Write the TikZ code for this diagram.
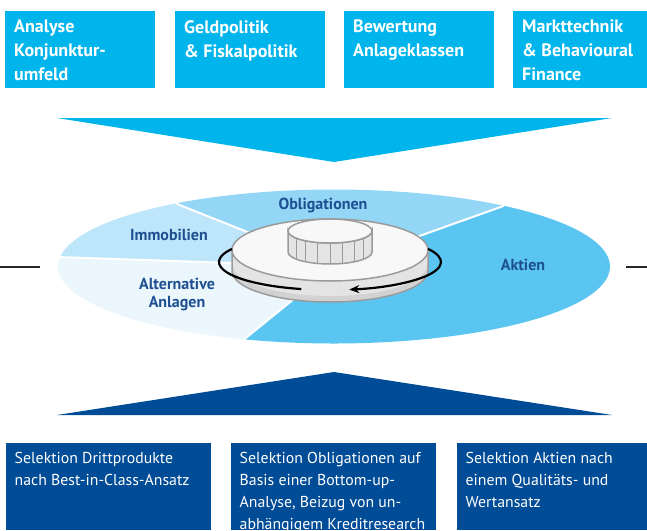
\documentclass[tikz,border=0pt]{standalone}
\usepackage{fontspec}
\setmainfont{PT Sans}
\usetikzlibrary{arrows.meta}
\definecolor{topblue}{HTML}{00B5EB}
\definecolor{darkblue}{HTML}{004C96}
\definecolor{labelblue}{HTML}{1D4F91}
\definecolor{aktiencol}{HTML}{5BC5F1}
\definecolor{oblicol}{HTML}{93D6F6}
\definecolor{immocol}{HTML}{BEE6FA}
\definecolor{altcol}{HTML}{EBF7FD}
\definecolor{diskline}{HTML}{9B9B9B}
\definecolor{diskside}{HTML}{E4E4E4}
\definecolor{diskbase}{HTML}{D2D2D2}
\definecolor{disktop}{HTML}{F8F8F8}

\begin{document}
\begin{tikzpicture}
		[x=1pt, y=-1pt,
			box/.style={anchor=north west, inner sep=0pt, minimum height=77pt},
			topbox/.style={box, fill=topblue, minimum width=150pt},
			selbox/.style={box, fill=darkblue, minimum width=205pt, minimum height=87pt},
			boxtext/.style={anchor=north west, inner sep=0pt, align=left, text=white},
			toptext/.style={boxtext, font=\bfseries\fontsize{18}{24}\selectfont},
			seltext/.style={boxtext, font=\fontsize{15.8}{22}\selectfont},
			pielabel/.style={align=center, inner sep=0pt, text=labelblue, font=\bfseries\fontsize{16}{18}\selectfont},
			disk/.style={fill=disktop, draw=diskline, line width=1.5pt},
			rotarrow/.style={line width=2.2pt, black}]
		\useasboundingbox (0,0) rectangle (647,530);
		% define centres of pie, disks and rotation
		\coordinate (pc) at (334,266.5);
		\coordinate (dc) at (330,250);
		\coordinate (sc) at (330,231);
		\coordinate (ac) at (330,262);
		% side marks
		\coordinate (l0) at (0,267);
		\coordinate (l1) at (40,267);
		\coordinate (r0) at (626,267);
		\coordinate (r1) at (647,267);
		% the analysis boxes on top
		\node[topbox] (t1) at (5,11) {};
		\node[topbox] (t2) at (175,11) {};
		\node[topbox] (t3) at (344,11) {};
		\node[topbox, minimum width=134pt] (t4) at (513,11) {};
		\node[toptext] (t1text) at ([shift={(9,9)}]t1.north west) {Analyse\\Konjunktur-\\umfeld};
		\node[toptext] (t2text) at ([shift={(9,9)}]t2.north west) {Geldpolitik\\\& Fiskalpolitik};
		\node[toptext] (t3text) at ([shift={(9,9)}]t3.north west) {Bewertung\\Anlageklassen};
		\node[toptext] (t4text) at ([shift={(9,9)}]t4.north west) {Markttechnik\\\& Behavioural\\Finance};
		% funnel down
		\fill[topblue] (57,118) -- (612,118) -- (334,162) -- cycle;
		% the pie of asset classes
		\foreach \a/\b/\c in {-125/-52/oblicol, -173/-125/immocol, 109/187/altcol, -52/109/aktiencol}
			\fill[\c] (pc) -- ++(\a:276 and 77) arc[start angle=\a, end angle=\b, x radius=276, y radius=77] -- cycle;
		\foreach \a in {-52,-125,-173,109}
			\draw[white, line width=2pt] (pc) -- ++(\a:276 and 77);
		\draw[line width=1.2pt, black!85] (l0) -- (l1);
		\draw[line width=1.2pt, black!85] (r0) -- (r1);
		% label the slices
		\node[pielabel] (obl) at (323,205) {Obligationen};
		\node[pielabel] (imm) at (169,235) {Immobilien};
		\node[pielabel] (akt) at (523,265) {Aktien};
		\node[pielabel] (alt) at (177,295) {Alternative\\Anlagen};
		% big disk
		\filldraw[fill=diskbase, draw=diskline, line width=1.5pt] (232,250) -- (232,271) arc[start angle=180, end angle=0, x radius=98, y radius=31] -- (428,250) -- cycle;
		\fill[diskside] (233,250) -- (233,265) arc[start angle=180, end angle=0, x radius=97, y radius=31] -- (427,250) -- cycle;
		\draw[disk] (dc) ellipse[x radius=98, y radius=31];
		% small knob
		\filldraw[fill=diskside, draw=diskline, line width=1.5pt] (288,231) -- (288,252) arc[start angle=180, end angle=0, x radius=42, y radius=12] -- (372,231) arc[start angle=0, end angle=180, x radius=42, y radius=12] -- cycle;
		\foreach \t in {36,54,72,90,108,126,144}
			\draw[diskline, line width=1pt] ([shift={(\t:42 and 12)}]sc) -- ++(0,21);
		\draw[disk] (sc) ellipse[x radius=42, y radius=12];
		% rotation arrow in front of the disk
		\draw[rotarrow, -{Stealth[length=10pt, width=8pt]}] ([shift={(-28:111 and 28)}]ac) arc[start angle=-28, end angle=80, x radius=111, y radius=28];
		\draw[rotarrow] ([shift={(105:111 and 28)}]ac) arc[start angle=105, end angle=208, x radius=111, y radius=28];
		% funnel up
		\fill[darkblue] (334,372) -- (612,415) -- (57,415) -- cycle;
		% the selection boxes below
		\node[selbox] (s1) at (6,443) {};
		\node[selbox] (s2) at (231,443) {};
		\node[selbox, minimum width=190pt] (s3) at (457,443) {};
		\node[seltext] (s1text) at ([shift={(8.5,9.5)}]s1.north west) {Selektion Drittprodukte\\nach Best-in-Class-Ansatz};
		\node[seltext] (s2text) at ([shift={(8.5,9.5)}]s2.north west) {Selektion Obligationen auf\\Basis einer Bottom-up-\\Analyse, Beizug von un-\\abhängigem Kreditresearch};
		\node[seltext] (s3text) at ([shift={(8.5,9.5)}]s3.north west) {Selektion Aktien nach\\einem Qualitäts- und\\Wertansatz};
	\end{tikzpicture}
\end{document}
